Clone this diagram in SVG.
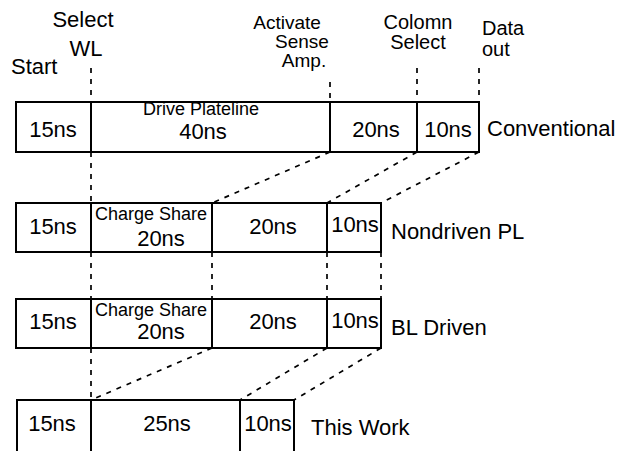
<svg xmlns="http://www.w3.org/2000/svg" width="631" height="451" viewBox="0 0 631 451">
<style>
text{font-family:"Liberation Sans",Arial,Helvetica,sans-serif;fill:#000}
.b{font-size:22px}
.t{font-size:20px}
.u{font-size:19px}
.s{font-size:18px}
.m{text-anchor:middle}
.box{fill:none;stroke:#000;stroke-width:2}
.div{stroke:#000;stroke-width:2}
.d{stroke:#000;stroke-width:1.7;stroke-dasharray:5 6;fill:none}
</style>
<rect width="631" height="451" fill="#fff"/>
<g id="labels">
<text class="b m" x="83" y="27">Select</text>
<text class="b m" x="86" y="56">WL</text>
<text class="b" x="11" y="74">Start</text>
<text class="u m" x="287" y="29">Activate</text>
<text class="u m" x="302" y="48">Sense</text>
<text class="u m" x="304" y="67">Amp.</text>
<text class="t m" x="418" y="29">Colomn</text>
<text class="t m" x="418" y="49">Select</text>
<text class="t" x="482" y="35">Data</text>
<text class="t" x="482" y="56">out</text>
</g>
<g id="connectors">
<line class="d" x1="91" y1="68" x2="91" y2="101"/>
<line class="d" x1="330" y1="82" x2="330" y2="101"/>
<line class="d" x1="417" y1="68" x2="417" y2="101"/>
<line class="d" x1="479" y1="68" x2="479" y2="101"/>
<line class="d" x1="91" y1="152" x2="91" y2="203"/>
<line class="d" x1="330" y1="152" x2="212" y2="203"/>
<line class="d" x1="417" y1="152" x2="327" y2="203"/>
<line class="d" x1="479" y1="152" x2="381" y2="203"/>
<line class="d" x1="91" y1="252" x2="91" y2="299"/>
<line class="d" x1="212" y1="252" x2="212" y2="299"/>
<line class="d" x1="327" y1="252" x2="327" y2="299"/>
<line class="d" x1="381" y1="252" x2="381" y2="299"/>
<line class="d" x1="91" y1="348" x2="91" y2="400"/>
<line class="d" x1="212" y1="348" x2="91" y2="400"/>
<line class="d" x1="327" y1="348" x2="240" y2="400"/>
<line class="d" x1="381" y1="348" x2="294" y2="400"/>
</g>
<g id="conventional">
<rect class="box" x="16" y="102" width="463" height="50"/>
<line class="div" x1="91" y1="102" x2="91" y2="152"/>
<line class="div" x1="330" y1="102" x2="330" y2="152"/>
<line class="div" x1="417" y1="102" x2="417" y2="152"/>
<text class="b m" x="53" y="137">15ns</text>
<text class="s m" x="201" y="115">Drive Plateline</text>
<text class="b m" x="203" y="139">40ns</text>
<text class="b m" x="376" y="137">20ns</text>
<text class="b m" x="448" y="137">10ns</text>
<text class="b" x="487" y="136">Conventional</text>
</g>
<g id="nondriven">
<rect class="box" x="16" y="203" width="365" height="49"/>
<line class="div" x1="91" y1="203" x2="91" y2="252"/>
<line class="div" x1="212" y1="203" x2="212" y2="252"/>
<line class="div" x1="327" y1="203" x2="327" y2="252"/>
<text class="b m" x="53" y="234">15ns</text>
<text class="s m" x="151" y="220">Charge Share</text>
<text class="b m" x="161" y="246">20ns</text>
<text class="b m" x="273" y="234">20ns</text>
<text class="b m" x="355" y="232">10ns</text>
<text class="b" x="391" y="239">Nondriven PL</text>
</g>
<g id="bldriven">
<rect class="box" x="16" y="299" width="365" height="49"/>
<line class="div" x1="91" y1="299" x2="91" y2="348"/>
<line class="div" x1="212" y1="299" x2="212" y2="348"/>
<line class="div" x1="327" y1="299" x2="327" y2="348"/>
<text class="b m" x="53" y="329">15ns</text>
<text class="s m" x="151" y="316">Charge Share</text>
<text class="b m" x="161" y="339">20ns</text>
<text class="b m" x="273" y="329">20ns</text>
<text class="b m" x="355" y="328">10ns</text>
<text class="b" x="391" y="335">BL Driven</text>
</g>
<g id="thiswork">
<rect class="box" x="17" y="400" width="277" height="52"/>
<line class="div" x1="91" y1="400" x2="91" y2="452"/>
<line class="div" x1="240" y1="400" x2="240" y2="452"/>
<text class="b m" x="52" y="431">15ns</text>
<text class="b m" x="167" y="431">25ns</text>
<text class="b m" x="268" y="431">10ns</text>
<text class="b" x="311" y="435">This Work</text>
</g>
</svg>
